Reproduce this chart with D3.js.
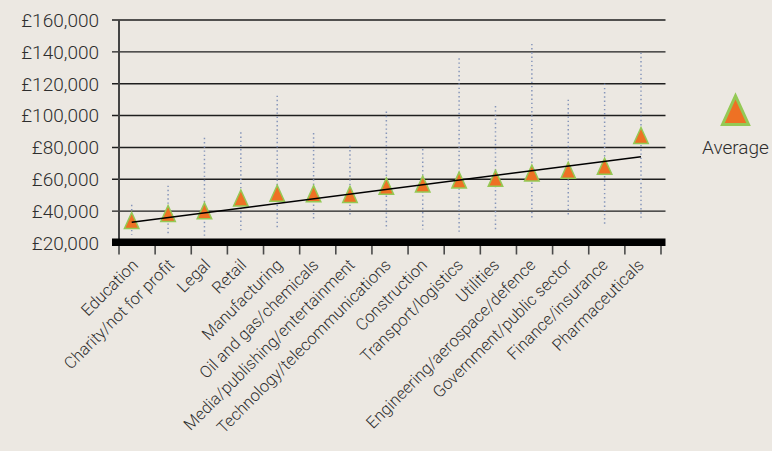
<!DOCTYPE html>
<html>
<head>
<meta charset="utf-8">
<script src="https://cdn.jsdelivr.net/npm/d3@7"></script>
<style>
  html, body { margin: 0; padding: 0; background: #ece8e2; }
  svg { display: block; }
  text { font-family: Roboto, "Noto Sans", sans-serif; font-weight: 300; fill: #2e2e2e; }
</style>
</head>
<body>
<svg id="chart" width="772" height="451"></svg>
<script>
// Salary by sector: average, with the lowest and highest reported salaries
const sectors = [
  "Education", "Charity/not for profit", "Legal", "Retail", "Manufacturing",
  "Oil and gas/chemicals", "Media/publishing/entertainment",
  "Technology/telecommunications", "Construction", "Transport/logistics",
  "Utilities", "Engineering/aerospace/defence", "Government/public sector",
  "Finance/insurance", "Pharmaceuticals"
];
const averageSalary = [34600, 39000, 40700, 48750, 51700, 51500, 51000, 56200, 57500, 60000, 61100, 64450, 66150, 68650, 88000];
const highestSalary = [44000, 56000, 86000, 89500, 112500, 89000, 81000, 102500, 79000, 136000, 106000, 145000, 110000, 120000, 139500];
const lowestSalary  = [25000, 25500, 23500, 27500, 28500, 34000, 37000, 28500, 28500, 27000, 27000, 35500, 37000, 30500, 34000];
// Linear trend of the averages, at the first and last sector
const trendValues = [33100, 74200];
const yTickValues = [20000, 40000, 60000, 80000, 100000, 120000, 140000, 160000];
const legendLabel = "Average";

const svg = d3.select("#chart");

const y = d3.scaleLinear().domain([20000, 160000]).range([243, 20]);
const xBand = d3.scaleBand().domain(sectors).range([119, 661]).padding(0);
const xMark = d3.scalePoint().domain(sectors).range([131.7, 641]);

const fmt = v => "£" + d3.format(",")(v);

// Horizontal gridlines with their short outer ticks
svg.append("g").selectAll("line").data(yTickValues.slice(1)).join("line")
  .attr("x1", 112).attr("x2", 665.5)
  .attr("y1", d => y(d)).attr("y2", d => y(d))
  .attr("stroke", "#1e1e1e").attr("stroke-width", 1.4);

// Y tick labels
svg.append("g").selectAll("text").data(yTickValues).join("text")
  .attr("x", 99).attr("y", d => y(d)).attr("dy", "0.36em")
  .attr("text-anchor", "end").attr("font-size", 19)
  .text(fmt);

// Vertical value axis
svg.append("line")
  .attr("x1", 119).attr("x2", 119).attr("y1", y(160000)).attr("y2", 246)
  .attr("stroke", "#444").attr("stroke-width", 2);

// Category ticks under the base bar
svg.append("g").selectAll("line").data(d3.range(sectors.length + 1)).join("line")
  .attr("x1", i => 119 + i * xBand.step()).attr("x2", i => 119 + i * xBand.step())
  .attr("y1", 244).attr("y2", 254.5)
  .attr("stroke", "#4a4a4a").attr("stroke-width", 1.6);

// Thick base bar at the bottom of the value axis
svg.append("rect")
  .attr("x", 112).attr("y", y(20000) - 4.5).attr("width", 665.5 - 112).attr("height", 7.5)
  .attr("fill", "#000");

// Category labels, rotated
svg.append("g").selectAll("text").data(sectors).join("text")
  .attr("transform", d => `translate(${xBand(d) + xBand.bandwidth() / 2 + 2},266) rotate(-45)`)
  .attr("text-anchor", "end").attr("font-size", 16.5)
  .text(d => d);

// Dotted high-low ranges
svg.append("g").selectAll("line").data(sectors).join("line")
  .attr("x1", d => xMark(d)).attr("x2", d => xMark(d))
  .attr("y1", (d, i) => y(highestSalary[i])).attr("y2", (d, i) => y(lowestSalary[i]))
  .attr("stroke", "#8595ba").attr("stroke-width", 1.5)
  .attr("stroke-dasharray", "1.4,2.8");

// Triangle marker path centred on its bounding box
function triangle(w, h) {
  const off = 0.05 * h;
  return `M0,${-h / 2 + off}L${w / 2},${h / 2 + off}L${-w / 2},${h / 2 + off}Z`;
}

svg.append("g").selectAll("path").data(sectors).join("path")
  .attr("transform", (d, i) => `translate(${xMark(d)},${y(averageSalary[i])})`)
  .attr("d", triangle(14.5, 16))
  .attr("fill", "#ee7124").attr("stroke", "#94c955")
  .attr("stroke-width", 1.5).attr("stroke-linejoin", "miter");

// Trend line over the averages
svg.append("line")
  .attr("x1", xMark(sectors[0])).attr("y1", y(trendValues[0]))
  .attr("x2", xMark(sectors[sectors.length - 1])).attr("y2", y(trendValues[1]))
  .attr("stroke", "#000").attr("stroke-width", 1.5);

// Legend
const legend = svg.append("g").attr("transform", "translate(735.5,108.7)");
legend.append("path")
  .attr("d", triangle(26, 28.5))
  .attr("fill", "#ee7124").attr("stroke", "#94c955")
  .attr("stroke-width", 3).attr("stroke-linejoin", "miter");
legend.append("text")
  .attr("x", 0).attr("y", 45.5).attr("text-anchor", "middle").attr("font-size", 19)
  .text(legendLabel);
</script>
</body>
</html>
